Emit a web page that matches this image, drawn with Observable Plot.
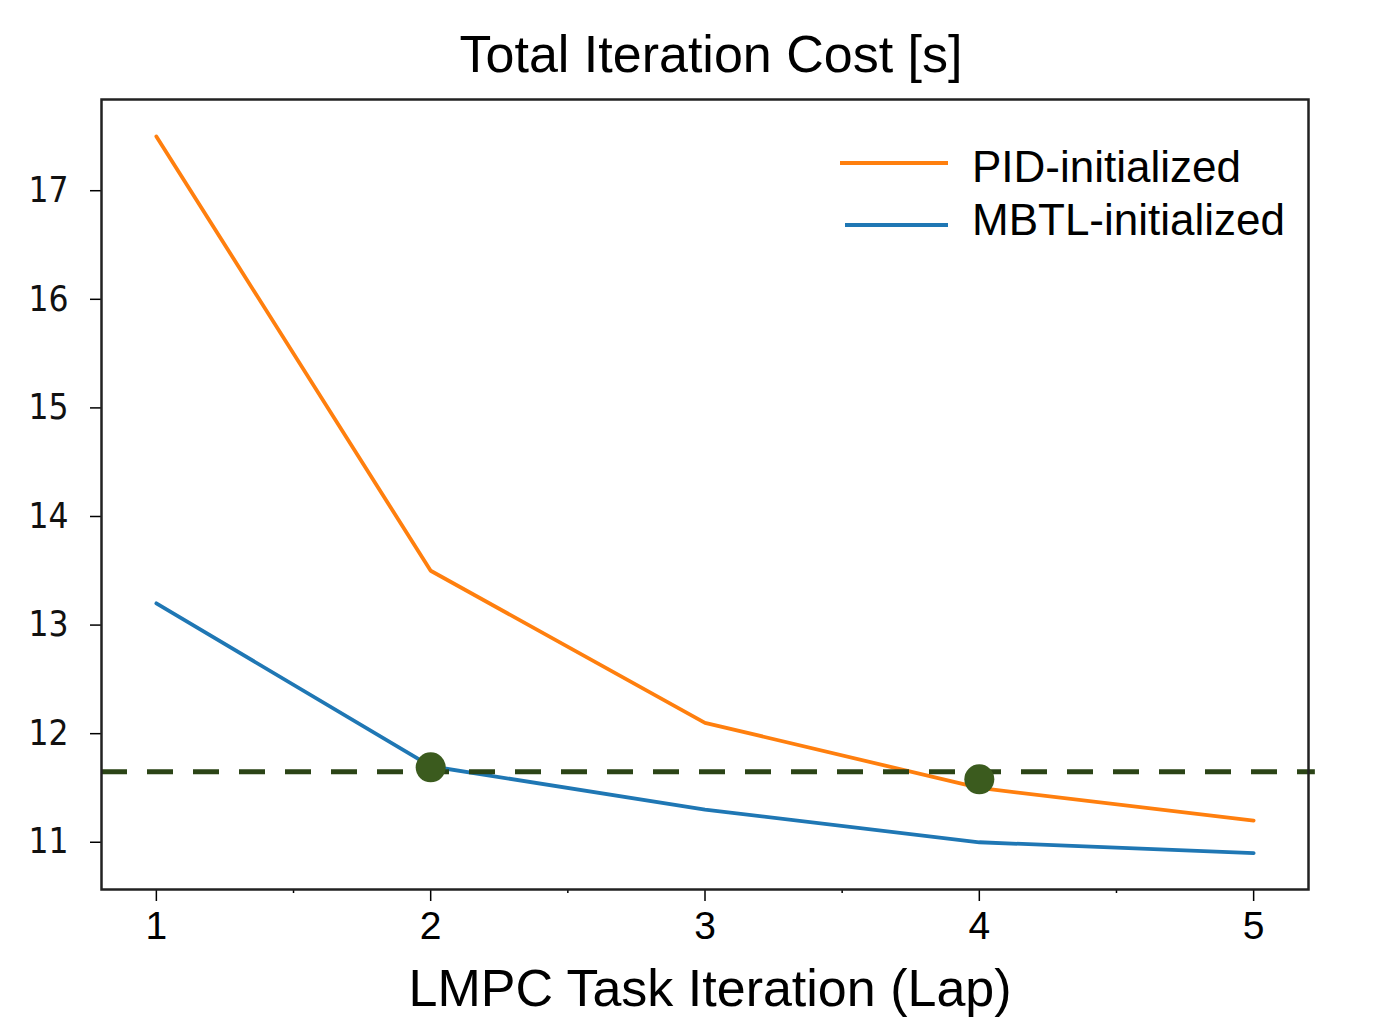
<!DOCTYPE html>
<html>
<head>
<meta charset="utf-8">
<script src="https://cdn.jsdelivr.net/npm/d3@7"></script>
<script src="https://cdn.jsdelivr.net/npm/@observablehq/plot@0.6"></script>
<style>
  body { margin: 0; background: #fff; }
  #chart { width: 1379px; }
  .title {
    box-sizing: border-box;
    height: 95px;
    padding: 28px 0 0 43px;
    font: 52px/52px "Liberation Sans", Arial, sans-serif;
    text-align: center;
    color: #000;
  }
</style>
</head>
<body>
<div id="chart">
  <div class="title">Total Iteration Cost [s]</div>
</div>
<script>
// Lap-by-lap total iteration cost for the two LMPC initializations
const laps = [1, 2, 3, 4, 5];
const pidCost = [17.5, 13.5, 12.1, 11.5, 11.2];
const mbtlCost = [13.2, 11.7, 11.3, 11.0, 10.9];
const seriesNames = ["PID-initialized", "MBTL-initialized"];
const seriesColors = ["#ff7f0e", "#1f77b4"];

// Reference cost level and the laps where each method reaches it
const thresholdCost = 11.65;
const markedLaps = [2, 4];
const markedCosts = [11.69, 11.58];

// Axis ticks
const xTicks = [1, 2, 3, 4, 5];
const xMinorTicks = [1.5, 2.5, 3.5, 4.5];
const yTicks = [11, 12, 13, 14, 15, 16, 17];
const xLabel = "LMPC Task Iteration (Lap)";

const rows = [
  ...laps.map((lap, i) => ({lap, cost: pidCost[i], series: seriesNames[0]})),
  ...laps.map((lap, i) => ({lap, cost: mbtlCost[i], series: seriesNames[1]}))
];
const markedPoints = markedLaps.map((lap, i) => ({lap, cost: markedCosts[i]}));

const xDomain = [0.8, 5.2];
const sans = "Liberation Sans, Arial, sans-serif";
const tickFont = "DejaVu Sans Condensed, DejaVu Sans, sans-serif";

// In-frame legend in the upper right corner
function legend(index, scales, values, dims) {
  const g = d3.create("svg:g");
  const right = dims.width - dims.marginRight;
  const top = dims.marginTop;
  const lineY = [64, 126];
  const lineX1 = [-468, -463];
  const textY = [83, 136];
  seriesNames.forEach((name, i) => {
    g.append("line")
      .attr("x1", right + lineX1[i]).attr("x2", right - 360)
      .attr("y1", top + lineY[i]).attr("y2", top + lineY[i])
      .attr("stroke", seriesColors[i]).attr("stroke-width", 4);
    g.append("text")
      .attr("x", right - 336).attr("y", top + textY[i])
      .attr("text-anchor", "start")
      .attr("font-family", sans).attr("font-size", 44)
      .attr("fill", "#000")
      .text(name);
  });
  return g.node();
}

const plot = Plot.plot({
  width: 1379,
  height: 929,
  marginTop: 4,
  marginBottom: 135,
  marginLeft: 101,
  marginRight: 71,
  x: {domain: xDomain},
  y: {domain: [10.565, 17.84]},
  color: {domain: seriesNames, range: seriesColors},
  style: {background: "#fff", color: "#000"},
  marks: [
    // tick lines (labels drawn as text marks below)
    Plot.axisX({ticks: xMinorTicks, tickSize: 4, tickFormat: () => "", label: null, strokeWidth: 1.5}),
    Plot.axisX({ticks: xTicks, tickSize: 12, tickFormat: () => "", label: null, strokeWidth: 1.5}),
    Plot.axisY({ticks: yTicks, tickSize: 11, tickFormat: () => "", label: null, strokeWidth: 1.5}),
    Plot.text(xTicks, {
      x: d => d, text: d => String(d), frameAnchor: "bottom", lineAnchor: "top", dy: 22,
      fontSize: 39, fontFamily: sans, fill: "#000"
    }),
    Plot.text(yTicks, {
      y: d => d, text: d => String(d), frameAnchor: "left", textAnchor: "end", dx: -33,
      fontSize: 35, fontFamily: tickFont, fill: "#111"
    }),
    Plot.line(rows, {x: "lap", y: "cost", z: "series", stroke: "series", strokeWidth: 3.8}),
    Plot.ruleY([thresholdCost], {
      x1: () => xDomain[0], x2: () => xDomain[1] + 0.025,
      stroke: "#2b4416", strokeWidth: 5, strokeDasharray: "26,20", clip: false
    }),
    Plot.dot(markedPoints, {x: "lap", y: "cost", r: 15, fill: "#3b5b1e", stroke: "none"}),
    Plot.frame({stroke: "#222", strokeWidth: 2.5}),
    legend,
    Plot.text([xLabel], {
      frameAnchor: "bottom", lineAnchor: "bottom", dy: 116, dx: 5,
      fontSize: 52, fontFamily: sans, fill: "#000"
    })
  ]
});

document.getElementById("chart").appendChild(plot);
</script>
</body>
</html>
